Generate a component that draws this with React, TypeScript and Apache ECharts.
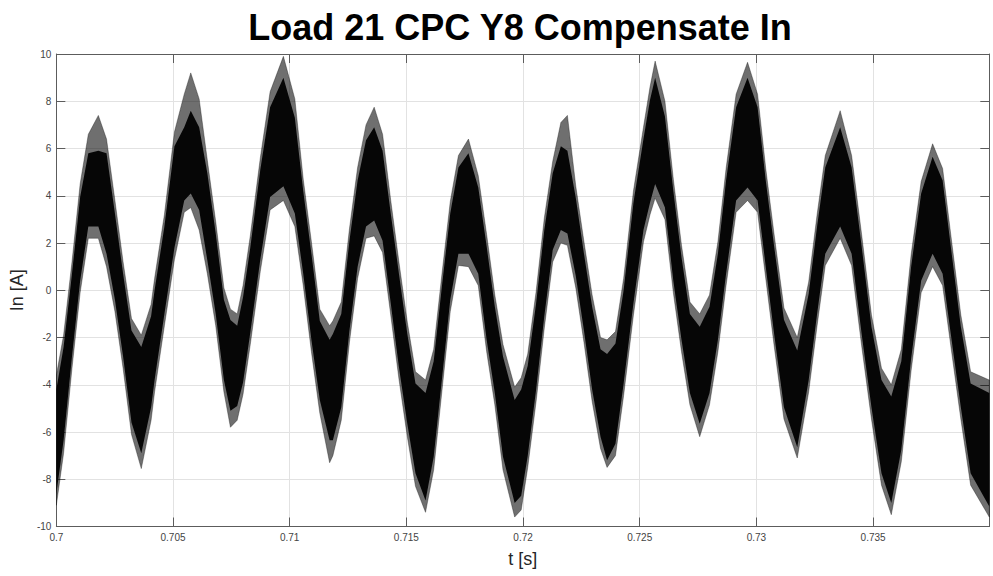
import React, { useEffect, useRef } from "react";
import * as echarts from "echarts";

const times = [
  0.70000, 0.70031, 0.70067, 0.70102, 0.70137, 0.70180, 0.70215, 0.70251, 0.70286, 0.70322,
  0.70364, 0.70406, 0.70421, 0.70463, 0.70506, 0.70548, 0.70576, 0.70612, 0.70647, 0.70683,
  0.70718, 0.70746, 0.70775, 0.70800, 0.70831, 0.70874, 0.70916, 0.70973, 0.71022, 0.71058,
  0.71093, 0.71129, 0.71171, 0.71185, 0.71221, 0.71256, 0.71291, 0.71327, 0.71362, 0.71398,
  0.71433, 0.71468, 0.71504, 0.71539, 0.71582, 0.71617, 0.71652, 0.71688, 0.71723, 0.71766,
  0.71808, 0.71844, 0.71879, 0.71914, 0.71964, 0.71992, 0.72020, 0.72056, 0.72091, 0.72127,
  0.72162, 0.72190, 0.72226, 0.72261, 0.72296, 0.72332, 0.72360, 0.72396, 0.72431, 0.72473,
  0.72516, 0.72544, 0.72566, 0.72608, 0.72644, 0.72679, 0.72715, 0.72757, 0.72799, 0.72835,
  0.72870, 0.72913, 0.72962, 0.73005, 0.73040, 0.73076, 0.73118, 0.73175, 0.73224, 0.73260,
  0.73295, 0.73359, 0.73408, 0.73451, 0.73493, 0.73536, 0.73578, 0.73621, 0.73663, 0.73706,
  0.73755, 0.73798, 0.73833, 0.73876, 0.73918, 0.73998,
];

// Upper spike tips of the current ripple (A)
const upperOuter = [
  -3.6, -1.9, 1.2, 4.5, 6.6, 7.4, 6.4, 3.8, 1.2, -1.2,
  -1.9, -0.6, 0.5, 3.2, 6.7, 8.3, 9.2, 8.1, 5.5, 2.9,
  0.1, -0.8, -1.0, 0.2, 2.3, 5.6, 8.4, 9.9, 8.1, 4.7,
  2.05, -0.8, -1.5, -1.3, -0.5, 2.6, 5.2, 7.0, 7.75, 6.6,
  3.8, 1.2, -1.35, -3.45, -3.8, -2.5, 0.65, 3.75, 5.7, 6.4,
  4.85, 2.35, -0.2, -2.3, -4.1, -3.7, -2.7, -0.05, 3.05, 5.45,
  7.1, 7.4, 4.4, 2.05, -0.2, -2.0, -2.1, -1.75, 0.5, 4.2,
  6.9, 8.6, 9.7, 8.0, 4.7, 1.9, -0.5, -1.0, -0.2, 2.05,
  5.15, 8.3, 9.65, 8.3, 5.15, 2.35, -0.75, -2.0, 0.35, 3.2,
  5.7, 7.6, 5.7, 2.35, -1.05, -3.3, -4.0, -2.5, 1.5, 4.6,
  6.2, 5.15, 2.35, -1.05, -3.45, -3.8,
];

// Upper edge of the dense ripple core (A)
const upperCore = [
  -4.2, -2.4, 0.7, 3.95, 5.8, 5.9, 5.8, 3.25, 0.7, -1.7,
  -2.4, -1.1, 0.0, 2.7, 6.1, 6.9, 7.6, 6.9, 4.95, 2.4,
  -0.4, -1.26, -1.5, -0.3, 1.8, 5.1, 7.75, 9.0, 7.3, 4.2,
  1.55, -1.3, -2.1, -1.85, -1.0, 2.1, 4.65, 6.35, 6.9, 5.9,
  3.25, 0.7, -1.85, -3.95, -4.35, -3.0, 0.15, 3.25, 5.2, 5.8,
  4.35, 1.85, -0.7, -2.8, -4.65, -4.2, -3.2, -0.55, 2.55, 4.95,
  6.1, 5.9, 3.9, 1.55, -0.7, -2.5, -2.7, -2.25, 0.0, 3.7,
  6.4, 8.05, 9.0, 7.35, 4.2, 1.4, -1.0, -1.55, -0.7, 1.55,
  4.65, 7.75, 9.0, 7.75, 4.65, 1.85, -1.25, -2.55, -0.15, 2.7,
  5.2, 6.9, 5.2, 1.85, -1.55, -3.8, -4.5, -3.0, 1.0, 4.1,
  5.65, 4.65, 1.85, -1.55, -3.95, -4.35,
];

// Lower edge of the dense ripple core (A)
const lowerCore = [
  -8.6, -6.35, -2.8, 0.4, 2.7, 2.7, 1.55, -0.4, -2.8, -5.6,
  -6.9, -4.95, -3.8, -1.0, 1.8, 3.8, 4.1, 3.4, 1.27, -1.0,
  -3.8, -5.1, -4.9, -3.9, -1.8, 1.3, 3.95, 4.4, 3.25, 0.7,
  -2.1, -4.65, -6.35, -6.35, -4.95, -1.7, 1.0, 2.7, 2.95, 2.1,
  -0.55, -3.25, -5.65, -7.75, -8.9, -7.05, -3.8, -0.4, 1.55, 1.55,
  0.7, -2.1, -4.35, -7.05, -9.0, -8.7, -7.0, -4.2, -1.1, 1.7,
  2.55, 2.4, 0.6, -1.7, -4.2, -6.2, -7.2, -6.5, -3.95, -0.55,
  2.55, 3.7, 4.5, 3.5, 0.4, -2.1, -4.35, -5.65, -4.35, -2.1,
  0.7, 3.8, 4.35, 3.8, 1.0, -1.85, -4.95, -6.65, -3.8, -1.0,
  1.55, 2.7, 1.55, -1.85, -4.95, -7.75, -9.0, -6.75, -2.9, 0.4,
  1.55, 0.7, -1.85, -4.95, -7.75, -9.15,
];

// Lower spike tips of the current ripple (A)
const lowerOuter = [
  -9.1, -6.9, -3.3, -0.1, 2.2, 2.2, 1.0, -0.9, -3.3, -6.1,
  -7.55, -5.5, -4.3, -1.5, 1.3, 3.3, 3.5, 2.55, 0.7, -1.5,
  -4.3, -5.8, -5.5, -4.4, -2.3, 0.8, 3.4, 3.8, 2.7, 0.2,
  -2.6, -5.2, -7.3, -7.0, -5.5, -2.2, 0.5, 2.2, 2.3, 1.6,
  -1.05, -3.75, -6.2, -8.3, -9.4, -7.6, -4.3, -0.9, 1.05, 1.0,
  0.2, -2.6, -4.85, -7.6, -9.6, -9.3, -7.5, -4.7, -1.6, 1.2,
  2.0, 1.9, 0.1, -2.2, -4.7, -6.7, -7.5, -7.0, -4.45, -1.05,
  2.05, 3.2, 3.9, 3.0, -0.1, -2.6, -4.85, -6.2, -4.85, -2.6,
  0.2, 3.3, 3.8, 3.3, 0.5, -2.35, -5.45, -7.1, -4.3, -1.5,
  1.05, 2.2, 1.05, -2.35, -5.45, -8.25, -9.5, -7.25, -3.4, -0.1,
  1.0, 0.2, -2.35, -5.45, -8.25, -9.6,
];

const xMin = 0.7;
const xMax = 0.73998;
const xStep = 0.005;
const yMin = -10;
const yMax = 10;
const yStep = 2;

const titleText = "Load 21 CPC Y8 Compensate In";
const xName = "t [s]";
const yName = "In [A]";

const FONT = "'Liberation Sans', Arial, Helvetica, sans-serif";
const AXIS_COLOR = "#5c5c5c";
const GRID_COLOR = "#e2e2e2";
const LABEL_COLOR = "#444444";

export default function App() {
  const ref = useRef<HTMLDivElement>(null);

  useEffect(() => {
    if (!ref.current) return;
    const chart = echarts.init(ref.current, undefined, { renderer: "svg" });

    const band = (api: any, up: number[], lo: number[]) => {
      const pts: number[][] = [];
      for (let i = 0; i < times.length; i++) pts.push(api.coord([times[i], up[i]]));
      for (let i = times.length - 1; i >= 0; i--) pts.push(api.coord([times[i], lo[i]]));
      return pts;
    };

    const axisCommon = {
      type: "value" as const,
      axisLine: { show: true, onZero: false, lineStyle: { color: AXIS_COLOR, width: 1 } },
      axisTick: { show: true, inside: true, length: 9, lineStyle: { color: AXIS_COLOR, width: 1 } },
    };

    const fmtX = (v: number) => String(+v.toFixed(3));

    chart.setOption({
      animation: false,
      backgroundColor: "#ffffff",
      title: {
        text: titleText,
        left: 520,
        top: 9,
        padding: 0,
        textAlign: "center",
        textStyle: { fontFamily: FONT, fontSize: 36, fontWeight: "bold", color: "#000000" },
      },
      grid: { left: 51, right: 3.7, top: 54, bottom: 49.5, containLabel: false },
      xAxis: [
        {
          ...axisCommon,
          position: "bottom",
          min: xMin,
          max: xMax,
          interval: xStep,
          name: xName,
          nameLocation: "middle",
          nameGap: 23,
          nameTextStyle: { fontFamily: FONT, fontSize: 18, color: "#262626" },
          axisLabel: {
            show: true,
            fontFamily: FONT,
            fontSize: 10,
            color: LABEL_COLOR,
            margin: 6,
            formatter: fmtX,
            showMaxLabel: false,
          },
          splitLine: { show: true, lineStyle: { color: GRID_COLOR, width: 1 } },
        },
        {
          ...axisCommon,
          position: "top",
          min: xMin,
          max: xMax,
          interval: xStep,
          axisLabel: { show: false },
          splitLine: { show: false },
        },
      ],
      yAxis: [
        {
          ...axisCommon,
          position: "left",
          min: yMin,
          max: yMax,
          interval: yStep,
          name: yName,
          nameLocation: "middle",
          nameGap: 22,
          nameTextStyle: { fontFamily: FONT, fontSize: 18, color: "#262626" },
          axisLabel: { show: true, fontFamily: FONT, fontSize: 10, color: LABEL_COLOR, margin: 5 },
          splitLine: { show: true, lineStyle: { color: GRID_COLOR, width: 1 } },
        },
        {
          ...axisCommon,
          position: "right",
          min: yMin,
          max: yMax,
          interval: yStep,
          axisLabel: { show: false },
          splitLine: { show: false },
        },
      ],
      series: [
        {
          type: "custom",
          coordinateSystem: "cartesian2d",
          xAxisIndex: 0,
          yAxisIndex: 0,
          silent: true,
          clip: true,
          data: [[times[0], 0]],
          renderItem: (_params: any, api: any) => ({
            type: "group",
            children: [
              {
                type: "polygon",
                shape: { points: band(api, upperOuter, lowerOuter) },
                style: { fill: "rgba(15,15,15,0.6)", stroke: "rgba(15,15,15,0.35)", lineWidth: 1 },
              },
              {
                type: "polygon",
                shape: { points: band(api, upperCore, lowerCore) },
                style: { fill: "#060606", stroke: "none" },
              },
            ],
          }),
        },
      ],
    });

    return () => chart.dispose();
  }, []);

  return (
    <div
      ref={ref}
      style={{ position: "fixed", left: 0, top: 0, width: 993, height: 576, background: "#fff" }}
    />
  );
}
